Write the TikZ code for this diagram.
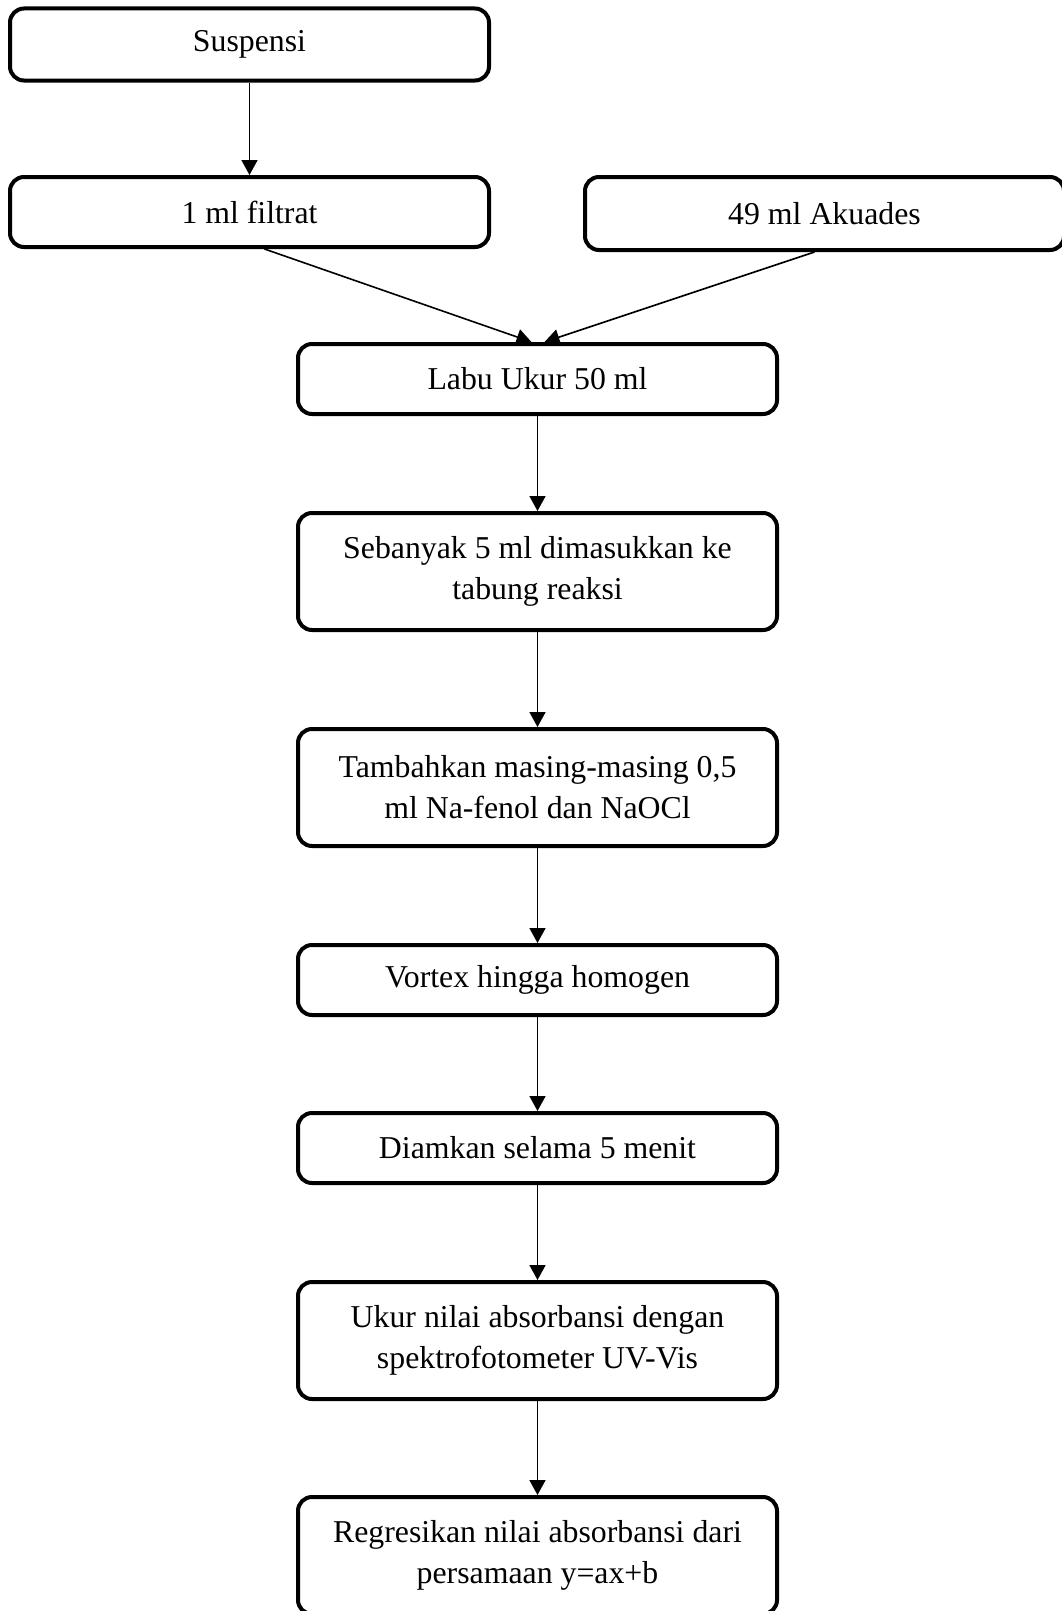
\documentclass[tikz,border=0pt]{standalone}
\usepackage{fontspec}
\setmainfont{Liberation Serif}
\usetikzlibrary{arrows.meta}
\begin{document}
\begin{tikzpicture}[x=1pt,y=-1pt,
  box/.style={draw, line width=4pt, rounded corners=14pt, minimum width=479pt,
    align=center, inner sep=0pt, font=\fontsize{31.8}{41}\selectfont},
  arr/.style={line width=1.6pt, -{Triangle[length=15pt,width=16pt]}}]
\useasboundingbox (0,0) rectangle (1062,1611);
\node[box, minimum height=72pt] (susp) at (249.5,44.5) {Suspensi};
\node[box, minimum height=70pt] (filt) at (249.5,212) {1 ml filtrat};
\node[box, minimum height=73pt] (akua) at (824.5,213.5) {49 ml Akuades};
\node[box, minimum height=70pt] (labu) at (537.5,379) {Labu Ukur 50 ml};
\node[box, minimum height=117pt] (seba) at (537.5,571.5) {Sebanyak 5 ml dimasukkan ke\\tabung reaksi};
\node[box, minimum height=117pt] (tamb) at (537.5,787.5) {Tambahkan masing-masing 0,5\\ml Na-fenol dan NaOCl};
\node[box, minimum height=70pt] (vort) at (537.5,980) {Vortex hingga homogen};
\node[box, minimum height=70pt] (diam) at (537.5,1148) {Diamkan selama 5 menit};
\node[box, minimum height=117pt] (ukur) at (537.5,1340.5) {Ukur nilai absorbansi dengan\\spektrofotometer UV-Vis};
\node[box, minimum height=117pt] (regr) at (537.5,1555.5) {Regresikan nilai absorbansi dari\\persamaan y=ax+b};
\draw[arr] (susp.south) -- (filt.north);
\draw[arr] ([xshift=15pt]filt.south) -- ([xshift=-6pt]labu.north);
\draw[arr] ([xshift=-10pt]akua.south) -- ([xshift=7pt]labu.north);
\draw[arr] (labu) -- (seba);
\draw[arr] (seba) -- (tamb);
\draw[arr] (tamb) -- (vort);
\draw[arr] (vort) -- (diam);
\draw[arr] (diam) -- (ukur);
\draw[arr] (ukur) -- (regr);
\end{tikzpicture}
\end{document}
